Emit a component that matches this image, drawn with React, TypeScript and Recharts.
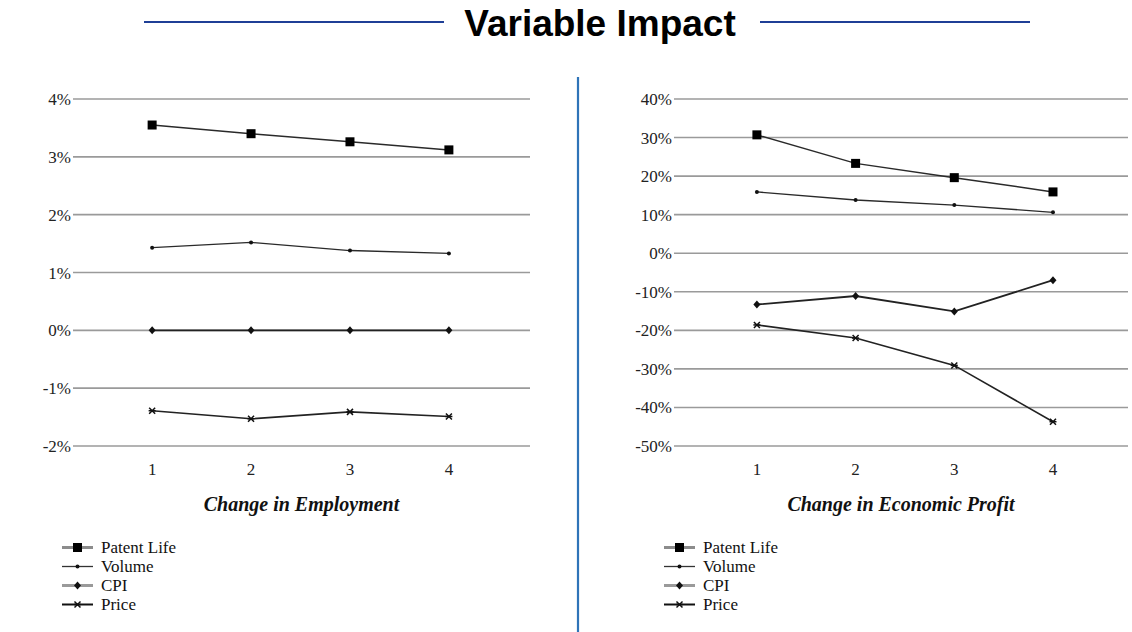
import React from 'react'
import { LineChart, Line, XAxis, YAxis, CartesianGrid } from 'recharts'

// step on the x axis, shared by both panels
const categories = [1, 2, 3, 4]
const seriesNames = ['Patent Life', 'Volume', 'CPI', 'Price']

// left panel: Change in Employment (%)
const employmentPatentLife = [3.55, 3.4, 3.26, 3.12]
const employmentVolume = [1.43, 1.52, 1.38, 1.33]
const employmentCpi = [0, 0, 0, 0]
const employmentPrice = [-1.39, -1.53, -1.41, -1.49]
const employmentTicks = [-2, -1, 0, 1, 2, 3, 4]

// right panel: Change in Economic Profit (%)
const profitPatentLife = [30.7, 23.3, 19.6, 15.9]
const profitVolume = [15.9, 13.8, 12.5, 10.6]
const profitCpi = [-13.3, -11.1, -15.1, -7.0]
const profitPrice = [-18.6, -22.0, -29.1, -43.7]
const profitTicks = [-50, -40, -30, -20, -10, 0, 10, 20, 30, 40]

const SERIF = '"Liberation Serif", "Times New Roman", serif'
const SANS = '"Liberation Sans", Arial, sans-serif'

type MarkerKind = 'square' | 'dot' | 'diamond' | 'star'

interface SeriesStyle {
  key: string
  name: string
  marker: MarkerKind
  stroke: string
  width: number
  legendStroke: string
  legendWidth: number
}

const SERIES: SeriesStyle[] = [
  { key: 'patent', name: seriesNames[0], marker: 'square', stroke: '#2a2a2a', width: 1.5, legendStroke: '#8c8c8c', legendWidth: 3 },
  { key: 'volume', name: seriesNames[1], marker: 'dot', stroke: '#2a2a2a', width: 1.3, legendStroke: '#333', legendWidth: 1.3 },
  { key: 'cpi', name: seriesNames[2], marker: 'diamond', stroke: '#222', width: 1.8, legendStroke: '#9a9a9a', legendWidth: 3 },
  { key: 'price', name: seriesNames[3], marker: 'star', stroke: '#222', width: 1.6, legendStroke: '#111', legendWidth: 2 },
]

function buildRows(patent: number[], volume: number[], cpi: number[], price: number[]) {
  return categories.map((step, i) => ({
    step,
    patent: patent[i],
    volume: volume[i],
    cpi: cpi[i],
    price: price[i],
  }))
}

const employmentRows = buildRows(employmentPatentLife, employmentVolume, employmentCpi, employmentPrice)
const profitRows = buildRows(profitPatentLife, profitVolume, profitCpi, profitPrice)

function Marker({ kind, cx, cy }: { kind: MarkerKind; cx: number; cy: number }) {
  if (cx == null || cy == null) return null
  switch (kind) {
    case 'square':
      return <rect x={cx - 4.5} y={cy - 4.5} width={9} height={9} fill="#000" />
    case 'dot':
      return <circle cx={cx} cy={cy} r={2} fill="#111" />
    case 'diamond':
      return <path d={`M${cx},${cy - 4} L${cx + 3.5},${cy} L${cx},${cy + 4} L${cx - 3.5},${cy} Z`} fill="#111" />
    case 'star':
      return (
        <g stroke="#111" strokeWidth={1.5}>
          <line x1={cx - 3} y1={cy - 3} x2={cx + 3} y2={cy + 3} />
          <line x1={cx - 3} y1={cy + 3} x2={cx + 3} y2={cy - 3} />
          <line x1={cx - 3.5} y1={cy} x2={cx + 3.5} y2={cy} />
        </g>
      )
  }
}

interface PanelProps {
  rows: ReturnType<typeof buildRows>
  yTicks: number[]
  xDomain: [number, number]
  title: string
  width: number
  margin: { top: number; right: number; bottom: number; left: number }
}

function Panel({ rows, yTicks, xDomain, title, width, margin }: PanelProps) {
  return (
    <LineChart width={width} height={530} data={rows} margin={margin}>
      <CartesianGrid vertical={false} stroke="#9a9a9a" strokeWidth={1.6} />
      <XAxis
        type="number"
        dataKey="step"
        domain={xDomain}
        ticks={categories}
        allowDataOverflow
        axisLine={false}
        tickLine={false}
        tickSize={0}
        tickMargin={17}
        height={70}
        tick={{ fontSize: 17, fill: '#222', fontFamily: SERIF }}
        label={{
          value: title,
          position: 'insideBottom',
          offset: 5,
          fill: '#111',
          style: { fontFamily: SERIF, fontStyle: 'italic', fontWeight: 'bold', fontSize: 20, fill: '#111' },
        }}
      />
      <YAxis
        type="number"
        domain={[yTicks[0], yTicks[yTicks.length - 1]]}
        ticks={yTicks}
        interval={0}
        width={60}
        axisLine={false}
        tickLine={false}
        tickSize={0}
        tickMargin={2}
        tickFormatter={(v: number) => `${v}%`}
        tick={{ fontSize: 17, fill: '#222', fontFamily: SERIF }}
      />
      {SERIES.map((s) => (
        <Line
          key={s.key}
          dataKey={s.key}
          name={s.name}
          type="linear"
          stroke={s.stroke}
          strokeWidth={s.width}
          isAnimationActive={false}
          dot={(p: any) => <Marker key={`${s.key}-${p.index}`} kind={s.marker} cx={p.cx} cy={p.cy} />}
          activeDot={false}
        />
      ))}
    </LineChart>
  )
}

function LegendBlock({ left }: { left: number }) {
  return (
    <div style={{ position: 'absolute', left, top: 538, fontFamily: SERIF, fontSize: 17, color: '#111' }}>
      {SERIES.map((s) => (
        <div key={s.key} style={{ display: 'flex', alignItems: 'center', height: 19 }}>
          <svg width={32} height={19} style={{ marginRight: 7 }}>
            <line x1={0} y1={9.5} x2={31} y2={9.5} stroke={s.legendStroke} strokeWidth={s.legendWidth} />
            <Marker kind={s.marker} cx={15.5} cy={9.5} />
          </svg>
          <span style={{ lineHeight: '19px' }}>{s.name}</span>
        </div>
      ))}
    </div>
  )
}

export default function App() {
  return (
    <div style={{ position: 'absolute', left: 0, top: 0, width: 1132, height: 632, overflow: 'hidden', background: '#fff' }}>
      <svg width={1132} height={632} style={{ position: 'absolute', left: 0, top: 0 }}>
        <line x1={144} y1={22} x2={444} y2={22} stroke="#1f3f96" strokeWidth={2.2} />
        <line x1={760} y1={22} x2={1030} y2={22} stroke="#1f3f96" strokeWidth={2.2} />
        <text x={600} y={36} textAnchor="middle" fontFamily={SANS} fontWeight="bold" fontSize={37} fill="#000">
          Variable Impact
        </text>
        <line x1={578} y1={77} x2={578} y2={632} stroke="#2f74b8" strokeWidth={2.2} />
      </svg>
      <div style={{ position: 'absolute', left: 0, top: 0 }}>
        <Panel
          rows={employmentRows}
          yTicks={employmentTicks}
          xDomain={[0.2, 4.82]}
          title="Change in Employment"
          width={560}
          margin={{ top: 99, right: 30, bottom: 14, left: 13 }}
        />
      </div>
      <div style={{ position: 'absolute', left: 580, top: 0 }}>
        <Panel
          rows={profitRows}
          yTicks={profitTicks}
          xDomain={[0.16, 4.76]}
          title="Change in Economic Profit"
          width={552}
          margin={{ top: 99, right: 4, bottom: 14, left: 34 }}
        />
      </div>
      <LegendBlock left={62} />
      <LegendBlock left={664} />
    </div>
  )
}
